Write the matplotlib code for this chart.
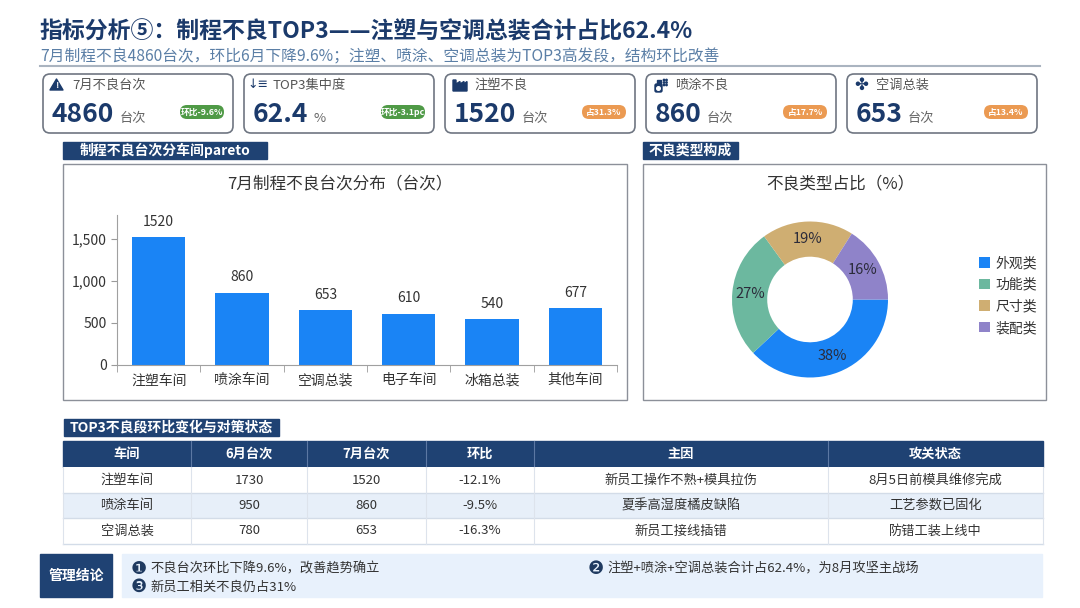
import matplotlib
matplotlib.use("Agg")
import matplotlib.pyplot as plt
from matplotlib.patches import FancyBboxPatch, Rectangle, Polygon, Circle
from matplotlib.ticker import FuncFormatter, FixedLocator

plt.rcParams["font.family"] = ["Noto Sans CJK SC", "DejaVu Sans"]

W, H = 1080, 608
NAVY = "#1b3a6b"
HEAD = "#1f4273"
BLUE = "#1a84f5"

# ---- data ----
title = "指标分析⑤：制程不良TOP3——注塑与空调总装合计占比62.4%"
subtitle = "7月制程不良4860台次，环比6月下降9.6%；注塑、喷涂、空调总装为TOP3高发段，结构环比改善"

kpi_labels = ["7月不良台次", "TOP3集中度", "注塑不良", "喷涂不良", "空调总装"]
kpi_values = ["4860", "62.4", "1520", "860", "653"]
kpi_units = ["台次", "%", "台次", "台次", "台次"]
kpi_badges = ["环比-9.6%", "环比-3.1pc", "占31.3%", "占17.7%", "占13.4%"]
kpi_badge_colors = ["#4f9a46", "#4f9a46", "#eb9a52", "#eb9a52", "#eb9a52"]

workshops = ["注塑车间", "喷涂车间", "空调总装", "电子车间", "冰箱总装", "其他车间"]
defects = [1520, 860, 653, 610, 540, 677]

defect_types = ["外观类", "功能类", "尺寸类", "装配类"]
type_share = [38, 27, 19, 16]
type_colors = ["#1a84f5", "#6cb89f", "#cfae72", "#8f83c9"]

table_cols = ["车间", "6月台次", "7月台次", "环比", "主因", "攻关状态"]
top3 = ["注塑车间", "喷涂车间", "空调总装"]
june = [1730, 950, 780]
july = [1520, 860, 653]
causes = ["新员工操作不熟+模具拉伤", "夏季高湿度橘皮缺陷", "新员工接线插错"]
status = ["8月5日前模具维修完成", "工艺参数已固化", "防错工装上线中"]

conclusions = ["不良台次环比下降9.6%，改善趋势确立",
               "注塑+喷涂+空调总装合计占62.4%，为8月攻坚主战场",
               "新员工相关不良仍占31%"]


def frac(x0, y0, x1, y1):
    return [x0 / W, 1 - y1 / H, (x1 - x0) / W, (y1 - y0) / H]


fig = plt.figure(figsize=(10.8, 6.08), dpi=100)
bg = fig.add_axes([0, 0, 1, 1])
bg.set_xlim(0, W)
bg.set_ylim(H, 0)
bg.axis("off")
renderer = fig.canvas.get_renderer()

# title block
bg.text(40, 32, title, fontsize=16.5, fontweight="bold", color=NAVY, va="center")
bg.text(40, 57.5, subtitle, fontsize=11.3, color="#5b7fa6", va="center")
bg.plot([40, 1040], [66, 66], color="#aab4c0", lw=1.5)

# KPI cards
for i in range(5):
    x0 = 43 + i * 201
    bg.add_patch(FancyBboxPatch((x0, 74), 190, 59, boxstyle="round,pad=0,rounding_size=7",
                                fc="white", ec="#6f7682", lw=1.2))
    bg.text(x0 + 29, 85, kpi_labels[i], fontsize=9.5, color="#555555", va="center")
    if i == 0:
        px, py = x0 + 7, 79
        bg.add_patch(Polygon([(px, py + 11), (px + 6.5, py), (px + 13, py + 11)], closed=True,
                             color=NAVY, joinstyle="round"))
        bg.text(px + 6.5, py + 7, "!", fontsize=6.5, fontweight="bold", color="white",
                ha="center", va="center")
    elif i == 1:
        bg.text(x0 + 14, 85, "↓≡", fontsize=9, color=NAVY, ha="center", va="center",
                family="DejaVu Sans")
    elif i == 2:
        px, py = x0 + 8, 80
        pts = [(0, 11), (0, 0), (3, 0), (3, 4), (7, 1.5), (7, 4), (11, 1.5), (11, 4), (14, 1.5), (14, 11)]
        bg.add_patch(Polygon([(px + a, py + b) for a, b in pts], closed=True, color=NAVY))
    elif i == 3:
        px, py = x0 + 9, 80
        bg.add_patch(Rectangle((px + 1.5, py), 4, 3.5, color=NAVY))
        bg.add_patch(FancyBboxPatch((px, py + 4), 7, 8, boxstyle="round,pad=0,rounding_size=1.5", color=NAVY))
        bg.add_patch(Circle((px + 3.5, py + 8.5), 1.8, color="white"))
        for dx in (9, 11.5):
            for dy in (0, 2.5, 5):
                bg.add_patch(Circle((px + dx, py + dy), 0.7, color=NAVY))
    else:
        bg.text(x0 + 14, 85, "✤", fontsize=12, color=NAVY, ha="center", va="center",
                family="DejaVu Sans")
    t = bg.text(x0 + 9, 122, kpi_values[i], fontsize=19, fontweight="bold", color=NAVY, va="baseline")
    bb = t.get_window_extent(renderer)
    bg.text(bb.x1 + 5, 122, kpi_units[i], fontsize=9.5, color="#666666", va="baseline")
    bx = x0 + 190 - 9 - 44
    bg.add_patch(FancyBboxPatch((bx, 105), 44, 14, boxstyle="round,pad=0,rounding_size=7",
                                fc=kpi_badge_colors[i], ec="none"))
    bg.text(bx + 22, 112, kpi_badges[i], fontsize=6.3, fontweight="bold", color="white",
            ha="center", va="center")


def section(x0, x1, y0, y1, text):
    bg.add_patch(Rectangle((x0, y0), x1 - x0, y1 - y0, color=HEAD))
    bg.text((x0 + x1) / 2, (y0 + y1) / 2, text, color="white", fontsize=10, fontweight="bold",
            ha="center", va="center")


# bar panel
section(63, 267, 142, 159, "制程不良台次分车间pareto")
bg.add_patch(Rectangle((63, 164), 564, 236, fc="white", ec="#8c9099", lw=1))
bg.text(340, 184, "7月制程不良台次分布（台次）", fontsize=12, color="#333333", ha="center", va="center")

ax = fig.add_axes(frac(117, 215, 617, 365))
ax.set_facecolor("none")
bars = ax.bar(range(len(workshops)), defects, width=0.64, color=BLUE)
ax.bar_label(bars, padding=6, fontsize=10, color="#333333")
ax.set_xlim(-0.5, len(workshops) - 0.5)
ax.set_ylim(0, 1780)
ax.set_yticks([0, 500, 1000, 1500])
ax.yaxis.set_major_formatter(FuncFormatter(lambda v, p: f"{int(v):,}"))
ax.set_xticks(range(len(workshops)))
ax.set_xticklabels(workshops)
ax.xaxis.set_minor_locator(FixedLocator([k - 0.5 for k in range(len(workshops) + 1)]))
ax.tick_params(axis="x", which="major", length=0, pad=6, labelsize=10, labelcolor="#333333")
ax.tick_params(axis="x", which="minor", length=5, color="#9a9a9a")
ax.tick_params(axis="y", length=4, color="#9a9a9a", labelsize=10, labelcolor="#333333")
for s in ("top", "right"):
    ax.spines[s].set_visible(False)
for s in ("left", "bottom"):
    ax.spines[s].set_color("#a0a0a0")

# donut panel
section(643, 738, 142, 159, "不良类型构成")
bg.add_patch(Rectangle((643, 164), 403, 236, fc="white", ec="#8c9099", lw=1))
bg.text(840, 184, "不良类型占比（%）", fontsize=12, color="#333333", ha="center", va="center")

dax = fig.add_axes(frac(722, 211.5, 898, 387.5))
wedges, _, autotexts = dax.pie(type_share, colors=type_colors, startangle=0, counterclock=False,
                               radius=0.975, wedgeprops=dict(width=0.44, linewidth=0),
                               autopct=lambda p: f"{p:.0f}%", pctdistance=0.775,
                               textprops=dict(fontsize=10.5, color="#2b2b3a"))
dax.set_xlim(-1.1, 1.1)
dax.set_ylim(-1.1, 1.1)
dax.set_aspect("equal")
dax.legend(wedges, defect_types, loc="center left", bbox_to_anchor=(979 / W, 1 - 295.5 / H),
           bbox_transform=fig.transFigure, frameon=False, borderpad=0, borderaxespad=0,
           handlelength=0.8, handleheight=0.8, handletextpad=0.4, labelspacing=0.55,
           fontsize=10, labelcolor="#333333")

# table
section(64, 279, 419, 436, "TOP3不良段环比变化与对策状态")
col_edges = [63, 191, 307, 426, 534, 828, 1043]
row_edges = [441, 467, 493, 518, 544]
bg.add_patch(Rectangle((63, 441), 980, 26, color=HEAD))
for r in range(3):
    fc = "#e7eff9" if r == 1 else "white"
    bg.add_patch(Rectangle((63, row_edges[r + 1]), 980, row_edges[r + 2] - row_edges[r + 1], fc=fc, ec="none"))
for y in row_edges[2:]:
    bg.plot([63, 1043], [y, y], color="#d3dce8", lw=1)
for x in col_edges[1:-1]:
    bg.plot([x, x], [441, 467], color="#5c78a3", lw=0.8)
    bg.plot([x, x], [467, 544], color="#dde3ec", lw=0.8)
bg.plot([63, 63], [467, 544], color="#dde3ec", lw=0.8)
bg.plot([1043, 1043], [467, 544], color="#dde3ec", lw=0.8)

for c, name in enumerate(table_cols):
    bg.text((col_edges[c] + col_edges[c + 1]) / 2, 454, name, color="white", fontsize=9.5,
            fontweight="bold", ha="center", va="center")
for r in range(3):
    mom = (july[r] - june[r]) / june[r] * 100
    cells = [top3[r], str(june[r]), str(july[r]), f"{mom:.1f}%", causes[r], status[r]]
    yc = (row_edges[r + 1] + row_edges[r + 2]) / 2
    for c, val in enumerate(cells):
        bg.text((col_edges[c] + col_edges[c + 1]) / 2, yc, val, color="#333333", fontsize=9.5,
                ha="center", va="center")

# conclusions
bg.add_patch(Rectangle((40, 554), 72, 43, color=HEAD))
bg.text(76, 575.5, "管理结论", color="white", fontsize=10, fontweight="bold", ha="center", va="center")
bg.add_patch(Rectangle((122, 554), 920, 43, color="#e8f1fc"))
marks = ["❶", "❷", "❸"]
spots = [(131, 569), (588, 569), (131, 587)]
for m, (x, y), txt in zip(marks, spots, conclusions):
    bg.text(x, y, m, fontsize=13, color="#1f3a60", ha="left", va="center",
            family=["DejaVu Sans", "Noto Sans CJK SC"])
    bg.text(x + 19, y, txt, fontsize=9.5, color="#333333", ha="left", va="center")

fig.savefig("out.png", dpi=100)
